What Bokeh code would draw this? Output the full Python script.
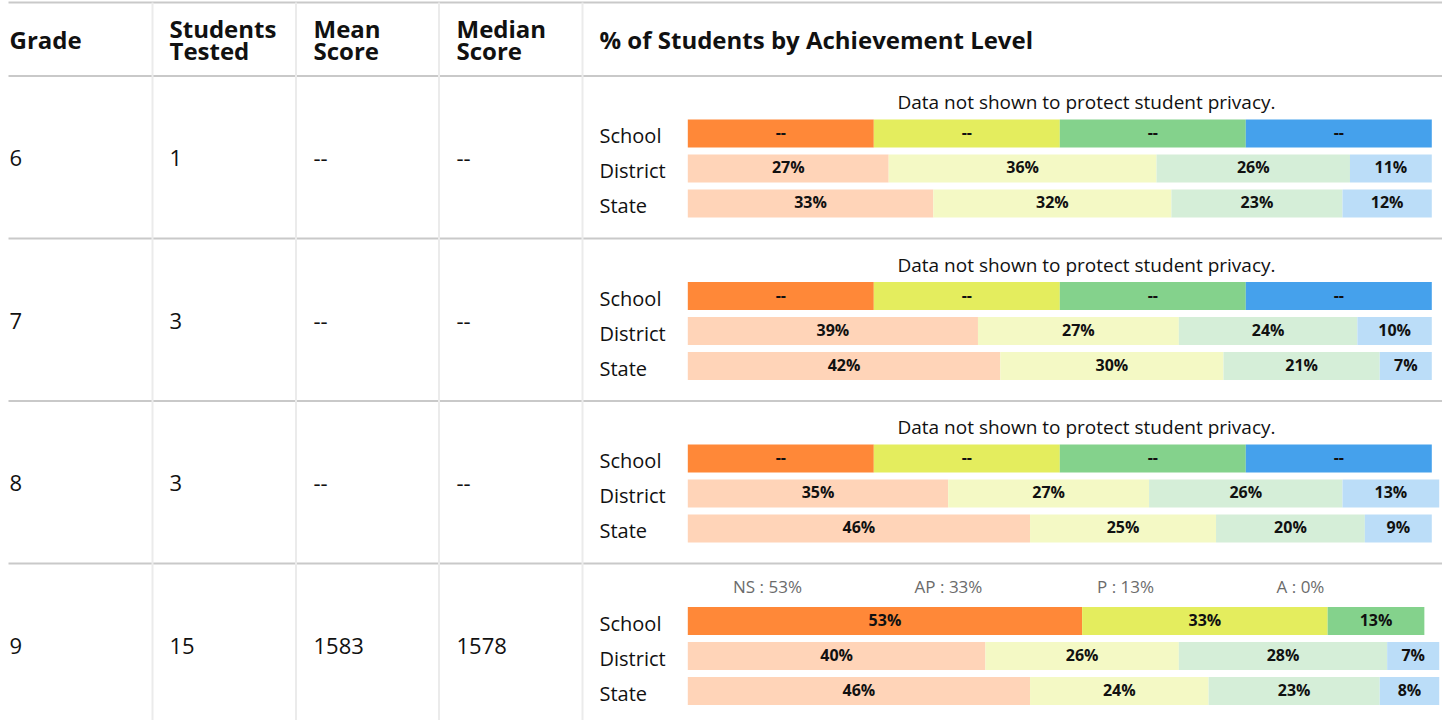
from bokeh.plotting import figure
from bokeh.models import Range1d, ColumnDataSource, GlobalInlineStyleSheet
from bokeh.core.properties import value
from bokeh.embed import file_html
from bokeh.resources import INLINE

# ---------------- data ----------------
grades = ["6", "7", "8", "9"]
students_tested = ["1", "3", "3", "15"]
mean_score = ["--", "--", "--", "1583"]
median_score = ["--", "--", "--", "1578"]
levels = ["NS", "AP", "P", "A"]
entities = ["School", "District", "State"]
school_shown = [False, False, False, True]
school_pct = [[25, 25, 25, 25], [25, 25, 25, 25], [25, 25, 25, 25], [53, 33, 13, 0]]
district_pct = [[27, 36, 26, 11], [39, 27, 24, 10], [35, 27, 26, 13], [40, 26, 28, 7]]
state_pct = [[33, 32, 23, 12], [42, 30, 21, 7], [46, 25, 20, 9], [46, 24, 23, 8]]
header_labels = ["Grade", "Students\nTested", "Mean\nScore", "Median\nScore",
                 "% of Students by Achievement Level"]
privacy_note = "Data not shown to protect student privacy."

# ---------------- style / layout ----------------
W, H = 1442, 720
FONT = value("Open Sans")
strong_colors = ["#FF8838", "#E4ED5E", "#84D28C", "#45A1EC"]
light_colors = ["#FFD4B8", "#F4F9C5", "#D5EED8", "#BBDDF8"]
BAR_X0 = 687.3          # px where the 0 % of bars sits
PX_PER_PCT = 7.44       # px per percent
HEADER_TOP = 2.0
HEADER_BOTTOM = 75.5
ROW_H = 162.5
BAR_OFFSETS = [57.5, 92.5, 127.5]   # bar centre offsets within a row (px)
BAR_H = 28
COL_X = [9, 169, 313, 456, 599]
SEP_X = [152, 295.5, 438.5, 582]
LEVEL_LABEL_X = [767, 948, 1125, 1300]

p = figure(width=W, height=H, output_backend="svg", toolbar_location=None,
           x_range=Range1d(0, W), y_range=Range1d(H, 0),
           min_border=0, min_border_left=0, min_border_right=0,
           min_border_top=0, min_border_bottom=0)
p.axis.visible = False
p.grid.visible = False
p.outline_line_color = None
p.background_fill_color = "white"
p.border_fill_color = "white"
p.extra_x_ranges = {"pct": Range1d(-BAR_X0 / PX_PER_PCT, (W - BAR_X0) / PX_PER_PCT)}
p.stylesheets = [GlobalInlineStyleSheet(css="html, body {margin:0 !important; padding:0; overflow:hidden;}")]

# ---------------- table lines ----------------
row_tops = [HEADER_BOTTOM + i * ROW_H for i in range(len(grades))]
h_lines_y = [HEADER_TOP, HEADER_BOTTOM] + [t + ROW_H for t in row_tops[:-1]]
p.segment(x0=[8] * len(h_lines_y), x1=[W] * len(h_lines_y), y0=h_lines_y, y1=h_lines_y,
          line_color="#c9c9c9", line_width=2)
p.segment(x0=SEP_X, x1=SEP_X, y0=[HEADER_TOP] * len(SEP_X), y1=[H] * len(SEP_X),
          line_color="#ebebeb", line_width=2)

# ---------------- header ----------------
hy = (HEADER_TOP + HEADER_BOTTOM) / 2
p.text(x=COL_X, y=[hy] * len(COL_X), text=header_labels,
       text_font=FONT, text_font_size="24px", text_font_style="bold",
       text_color="#111111", text_baseline="middle", text_align="left",
       text_line_height=0.68)

# ---------------- table cells ----------------
cell_y = [t + ROW_H / 2 + 1 for t in row_tops]
for col_i, col in enumerate([grades, students_tested, mean_score, median_score]):
    p.text(x=[COL_X[col_i]] * len(col), y=cell_y, text=col,
           text_font=FONT, text_font_size="22px", text_color="#111111",
           text_baseline="middle", text_align="left")

# ---------------- bars ----------------
bar_rows = {"left": [], "right": [], "y": [], "ly": [], "color": [], "label": [], "mid": []}
ent_y, ent_t = [], []
for gi, top in enumerate(row_tops):
    for ei, (ent, data) in enumerate(zip(entities, [school_pct, district_pct, state_pct])):
        yc = top + BAR_OFFSETS[ei]
        ent_y.append(yc)
        ent_t.append(ent)
        vals = data[gi]
        cum = 0
        for li, v in enumerate(vals):
            if v <= 0:
                continue
            bar_rows["left"].append(cum)
            bar_rows["right"].append(cum + v)
            bar_rows["mid"].append(cum + v / 2)
            bar_rows["y"].append(yc)
            bar_rows["ly"].append(yc - 1.5)
            if ent == "School":
                bar_rows["color"].append(strong_colors[li])
                bar_rows["label"].append(f"{v}%" if school_shown[gi] else "--")
            else:
                bar_rows["color"].append(light_colors[li])
                bar_rows["label"].append(f"{v}%")
            cum += v
src = ColumnDataSource(bar_rows)
p.hbar(left="left", right="right", y="y", height=BAR_H, fill_color="color",
       line_color=None, source=src, x_range_name="pct")
p.text(x="mid", y="ly", text="label", source=src, x_range_name="pct",
       text_font=FONT, text_font_size="16px", text_font_style="bold",
       text_color="#111111", text_align="center", text_baseline="middle")

p.text(x=[COL_X[4]] * len(ent_y), y=[y + 2 for y in ent_y], text=ent_t,
       text_font=FONT, text_font_size="20px", text_color="#111111",
       text_align="left", text_baseline="middle")

# privacy notes / level labels
priv_y = [t + 26 for t, s in zip(row_tops, school_shown) if not s]
p.text(x=[1086] * len(priv_y), y=priv_y, text=[privacy_note] * len(priv_y),
       text_font=FONT, text_font_size="19px", text_color="#111111",
       text_align="center", text_baseline="middle")
for gi, s in enumerate(school_shown):
    if s:
        labs = [f"{lv} : {v}%" for lv, v in zip(levels, school_pct[gi])]
        p.text(x=LEVEL_LABEL_X, y=[row_tops[gi] + 23] * len(labs), text=labs,
               text_font=FONT, text_font_size="17px", text_color="#6b6b6b",
               text_align="center", text_baseline="middle")

open("out.html", "w").write(file_html(p, INLINE))
